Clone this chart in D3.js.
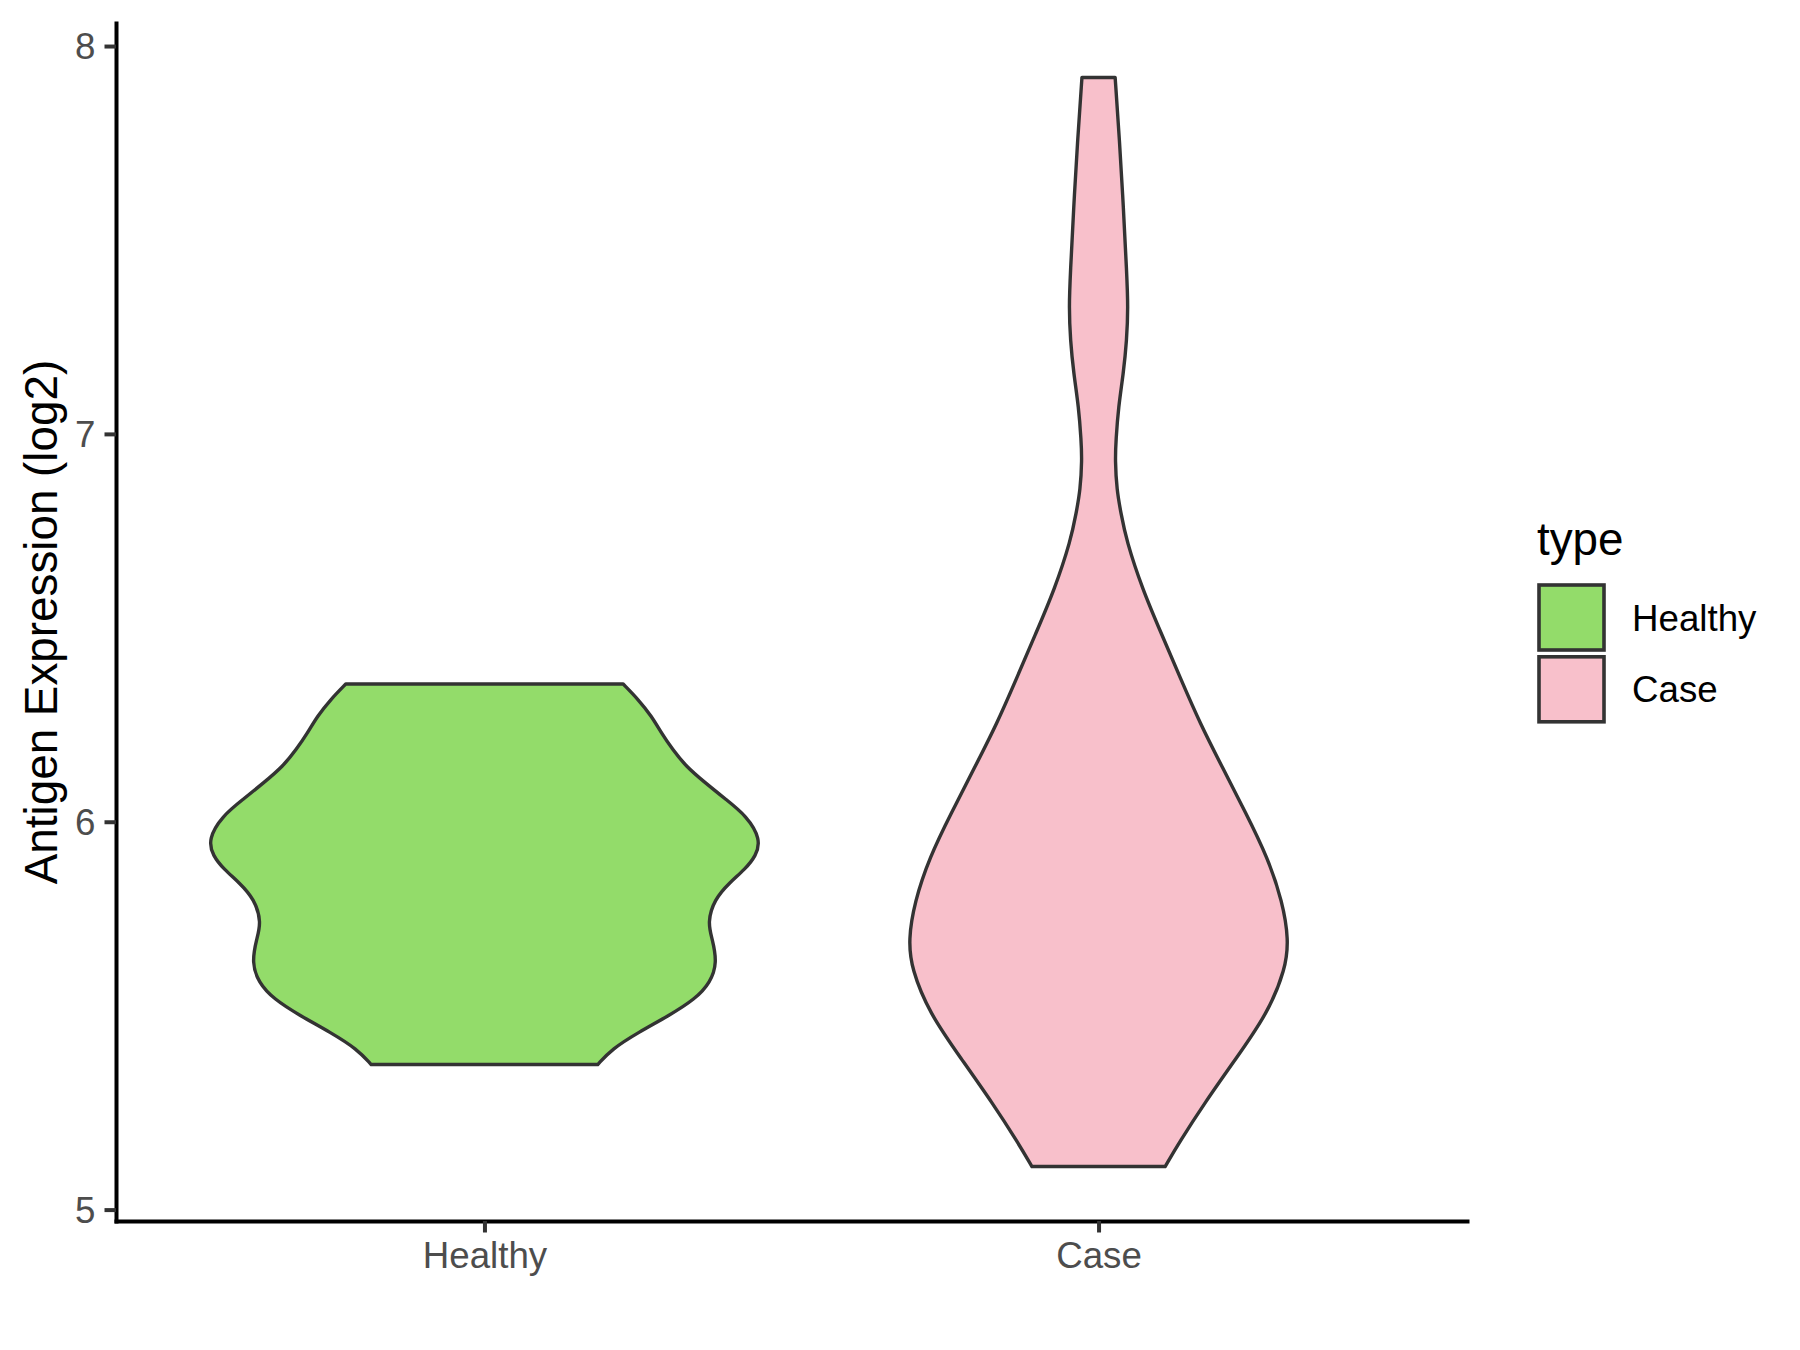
<!DOCTYPE html>
<html>
<head>
<meta charset="utf-8">
<script src="https://cdn.jsdelivr.net/npm/d3@7"></script>
<style>
  body { margin: 0; background: #fff; }
  text { font-family: "Liberation Sans", Arial, sans-serif; }
</style>
</head>
<body>
<div id="chart"></div>
<script>
// groups and legend
const categories = ["Healthy", "Case"];
const yTicks = [5, 6, 7, 8];

// violin outlines: value (log2) and relative half width
const healthyValue = [6.355, 6.315, 6.272, 6.229, 6.186, 6.143, 6.101, 6.058, 6.015, 5.955,
  5.912, 5.877, 5.843, 5.800, 5.740, 5.697, 5.637, 5.586, 5.543, 5.500, 5.457, 5.414, 5.374];
const healthyWidth = [0.502, 0.557, 0.605, 0.640, 0.681, 0.729, 0.798, 0.873, 0.949, 1.0,
  0.983, 0.942, 0.887, 0.832, 0.807, 0.825, 0.842, 0.818, 0.763, 0.667, 0.557, 0.461, 0.410];

const caseValue = [7.919, 7.756, 7.584, 7.414, 7.327, 7.241, 7.156, 7.070, 6.984, 6.933,
  6.855, 6.796, 6.727, 6.599, 6.484, 6.369, 6.254, 6.139, 6.024, 5.908, 5.793, 5.696,
  5.621, 5.506, 5.390, 5.275, 5.172, 5.111];
const caseWidth = [0.060, 0.076, 0.090, 0.102, 0.107, 0.102, 0.090, 0.072, 0.063, 0.060,
  0.066, 0.081, 0.100, 0.159, 0.228, 0.297, 0.367, 0.449, 0.532, 0.612, 0.666, 0.688,
  0.677, 0.612, 0.498, 0.384, 0.291, 0.241];

const colors = { Healthy: "#93DC6A", Case: "#F8C0CB" };

const W = 1800, H = 1350;
const panel = { left: 116, right: 1467, top: 23, bottom: 1221 };

const svg = d3.select("#chart").append("svg")
  .attr("width", W)
  .attr("height", H)
  .style("background", "#fff");

const violins = [
  { name: "Healthy", pts: d3.zip(healthyValue, healthyWidth) },
  { name: "Case", pts: d3.zip(caseValue, caseWidth) }
];

// y domain like ggplot: data range + 5%
const allVals = healthyValue.concat(caseValue);
const [lo, hi] = d3.extent(allVals);
const pad = (hi - lo) * 0.05;
const y = d3.scaleLinear().domain([lo - pad, hi + pad]).range([panel.bottom, panel.top]);

const x = d3.scalePoint().domain(categories).range([panel.left, panel.right]).padding(0.6);
const w = d3.scaleLinear().domain([0, 1]).range([0, x.step() * 0.45]);

// violins
violins.forEach((v) => {
  const cx = x(v.name);
  const area = d3.area()
    .curve(d3.curveBasis)
    .y((d) => y(d[0]))
    .x0((d) => cx - w(d[1]))
    .x1((d) => cx + w(d[1]));
  svg.append("path")
    .datum(v.pts)
    .attr("d", area)
    .attr("fill", colors[v.name])
    .attr("stroke", "#333333")
    .attr("stroke-width", 3.4)
    .attr("stroke-linejoin", "round");
});

// axes
const yAxis = svg.append("g")
  .attr("transform", `translate(${panel.left},0)`)
  .call(d3.axisLeft(y).tickValues(yTicks).tickFormat(d3.format("d")).tickSize(11.5).tickSizeOuter(0).tickPadding(9));

const xAxis = svg.append("g")
  .attr("transform", `translate(0,${panel.bottom})`)
  .call(d3.axisBottom(x).tickSize(11.5).tickSizeOuter(0).tickPadding(9));

[yAxis, xAxis].forEach((g) => {
  g.select(".domain").attr("stroke", "#000").attr("stroke-width", 4).attr("stroke-linecap", "square");
  g.selectAll(".tick line").attr("stroke", "#333333").attr("stroke-width", 4);
  g.selectAll(".tick text")
    .attr("fill", "#4D4D4D")
    .style("font-size", "36.7px")
    .style("font-family", "'Liberation Sans', Arial, sans-serif");
});
yAxis.selectAll(".tick text").attr("dy", "0.35em");
xAxis.selectAll(".tick text").attr("dy", "0.72em");

// y title
svg.append("text")
  .attr("transform", `translate(57,${(panel.top + panel.bottom) / 2}) rotate(-90)`)
  .attr("text-anchor", "middle")
  .style("font-size", "45.8px")
  .attr("fill", "#000")
  .text("Antigen Expression (log2)");

// legend
const legend = svg.append("g").attr("transform", "translate(1537,0)");
legend.append("text")
  .attr("x", 0)
  .attr("y", 555)
  .style("font-size", "45.8px")
  .attr("fill", "#000")
  .text("type");

categories.forEach((c, i) => {
  const ky = 585 + i * 71.8;
  legend.append("rect")
    .attr("x", 2)
    .attr("y", ky)
    .attr("width", 65)
    .attr("height", 65)
    .attr("fill", colors[c])
    .attr("stroke", "#333333")
    .attr("stroke-width", 3.6);
  legend.append("text")
    .attr("x", 95)
    .attr("y", ky + 45.5)
    .style("font-size", "36.7px")
    .attr("fill", "#000")
    .text(c);
});
</script>
</body>
</html>
